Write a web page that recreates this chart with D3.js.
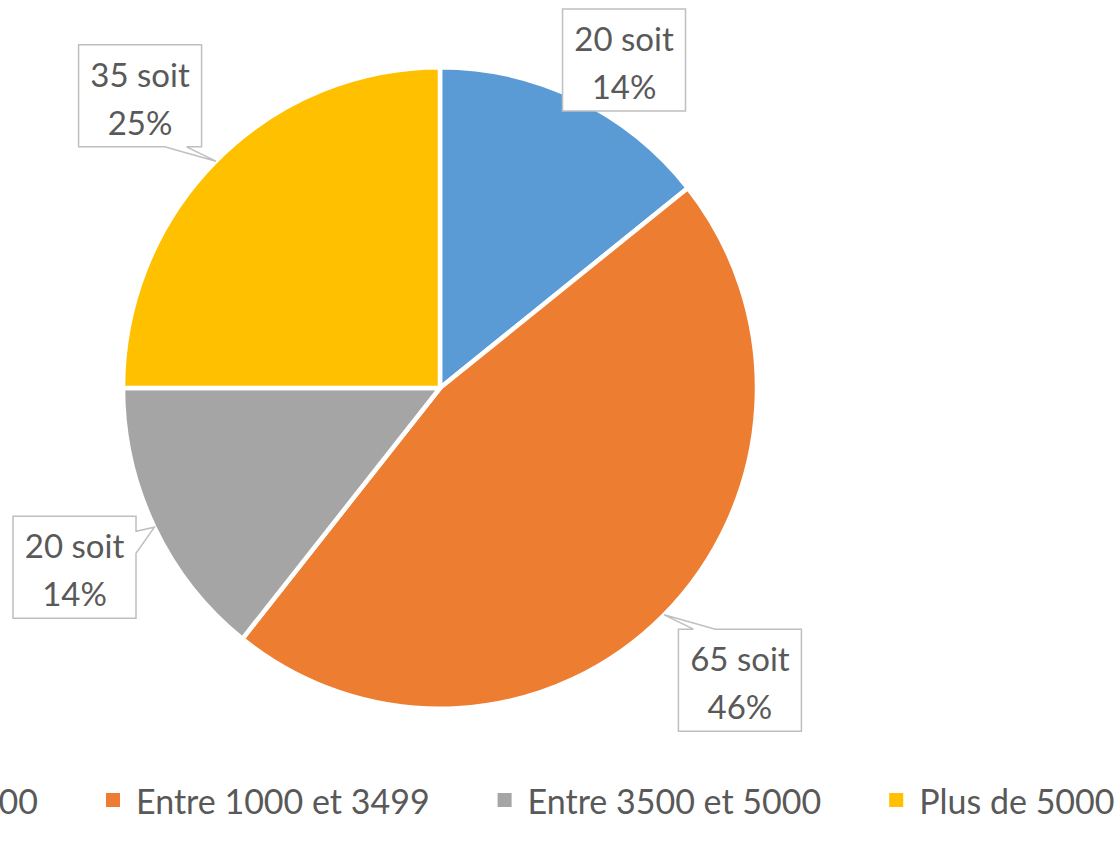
<!DOCTYPE html>
<html><head><meta charset="utf-8">
<script src="https://cdn.jsdelivr.net/npm/d3@7"></script>
<style>html,body{margin:0;padding:0;background:#fff;overflow:hidden}</style>
</head><body>
<svg id="chart" width="1117" height="842"></svg>
<script>
const categories = ["Moins de 1000", "Entre 1000 et 3499", "Entre 3500 et 5000", "Plus de 5000"];
const values = [20, 65, 20, 35];
const colors = ["#5B9BD5", "#ED7D31", "#A5A5A5", "#FFC000"];

const svg = d3.select("#chart");
const W = 1117, H = 842;
const cx = 440, cy = 388, r = 317, yScale = 1.012;
const textColor = "#595959";
const fontFam = "Lato, 'Open Sans', sans-serif";

const total = d3.sum(values);
const pie = d3.pie().sort(null).value(d => d)(values);
const arc = d3.arc().innerRadius(0).outerRadius(r);

const g = svg.append("g").attr("transform", `translate(${cx},${cy}) scale(1,${yScale})`);
g.selectAll("path").data(pie).join("path")
  .attr("d", arc)
  .attr("fill", (d, i) => colors[i])
  .attr("stroke", "#fff")
  .attr("stroke-width", 4.5)
  .attr("stroke-linejoin", "round");

// data labels with callouts
const labelFont = 33;
const kx = 1.338, ky = 1.288;
const boxH = 102;
const lab = svg.append("g");
pie.forEach((d, i) => {
  const a = (d.startAngle + d.endAngle) / 2;
  const tip = [cx + r * Math.sin(a), cy - r * yScale * Math.cos(a)];
  const bx = cx + r * kx * Math.sin(a), by = cy - r * ky * yScale * Math.cos(a);
  const l1 = `${values[i]} soit`, l2 = `${Math.round(values[i] / total * 100)}%`;
  const tmp = lab.append("text").attr("font-family", fontFam).attr("font-size", labelFont).text(l1);
  const tw = tmp.node().getComputedTextLength(); tmp.remove();
  const boxW = Math.round(tw + 24);
  let x0 = bx - boxW / 2, y0 = by - boxH / 2;
  if (y0 < 9) y0 = 9;
  if (y0 + boxH > H - 9) y0 = H - 9 - boxH;
  if (x0 < 13) x0 = 13;
  if (x0 + boxW > W - 9) x0 = W - 9 - boxW;
  const x1 = x0 + boxW, y1 = y0 + boxH;
  const inside = tip[0] >= x0 && tip[0] <= x1 && tip[1] >= y0 && tip[1] <= y1;
  let pts;
  const hw = 11, m = 26;
  const clamp = (v, lo, hi) => Math.max(lo, Math.min(hi, v));
  if (inside) {
    pts = [[x0, y0], [x1, y0], [x1, y1], [x0, y1]];
  } else {
    const ex = {left: x0 - tip[0], right: tip[0] - x1, top: y0 - tip[1], bottom: tip[1] - y1};
    const side = Object.keys(ex).reduce((p, c) => ex[c] > ex[p] ? c : p);
    if (side === "right") {
      const c = clamp(tip[1], y0 + m, y1 - m);
      pts = [[x0, y0], [x1, y0], [x1, c - hw], tip, [x1, c + hw], [x1, y1], [x0, y1]];
    } else if (side === "left") {
      const c = clamp(tip[1], y0 + m, y1 - m);
      pts = [[x0, y0], [x1, y0], [x1, y1], [x0, y1], [x0, c + hw], tip, [x0, c - hw]];
    } else if (side === "top") {
      const c = clamp(tip[0], x0 + m, x1 - m);
      pts = [[x0, y0], [c - hw, y0], tip, [c + hw, y0], [x1, y0], [x1, y1], [x0, y1]];
    } else {
      const c = clamp(tip[0], x0 + m, x1 - m);
      pts = [[x0, y0], [x1, y0], [x1, y1], [c + hw, y1], tip, [c - hw, y1], [x0, y1]];
    }
  }
  lab.append("path")
    .attr("d", "M" + pts.map(p => p.join(",")).join("L") + "Z")
    .attr("fill", "#fff").attr("stroke", "#BFBFBF").attr("stroke-width", 1.5);
  const tx = (x0 + x1) / 2;
  [[l1, y0 + 29], [l2, y0 + 77]].forEach(([t, yy]) => {
    lab.append("text").attr("x", tx).attr("y", yy)
      .attr("text-anchor", "middle").attr("dominant-baseline", "central")
      .attr("font-family", fontFam).attr("font-size", labelFont)
      .attr("fill", textColor).text(t);
  });
});

// legend
const legFont = 34, sq = 14, gapT = 16, gapI = 68, legY = 800;
const leg = svg.append("g");
const widths = categories.map(c => {
  const t = leg.append("text").attr("font-family", fontFam).attr("font-size", legFont).text(c);
  const w = t.node().getComputedTextLength(); t.remove(); return w;
});
let x = 106 - (sq + gapT + widths[0] + gapI);
categories.forEach((c, i) => {
  leg.append("rect").attr("x", x).attr("y", legY - sq / 2).attr("width", sq).attr("height", sq).attr("fill", colors[i]);
  leg.append("text").attr("x", x + sq + gapT).attr("y", legY)
    .attr("dominant-baseline", "central")
    .attr("font-family", fontFam).attr("font-size", legFont)
    .attr("fill", textColor).text(c);
  x += sq + gapT + widths[i] + gapI;
});
</script>
</body></html>
